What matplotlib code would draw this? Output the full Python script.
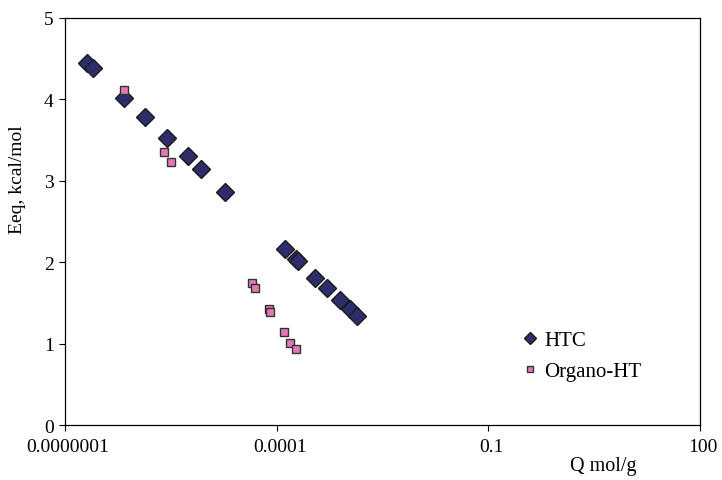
import matplotlib
matplotlib.use("Agg")
import matplotlib.pyplot as plt
import matplotlib.transforms as mtransforms

# adsorption energy vs. loading
htc_q = [2.05e-7, 2.5e-7, 6.95e-7, 1.38e-6, 2.78e-6, 5.53e-6, 8.46e-6, 1.85e-5,
         1.33e-4, 1.89e-4, 2.02e-4, 3.48e-4, 5.09e-4, 7.87e-4, 1.08e-3, 1.39e-3]
htc_e = [4.45, 4.39, 4.02, 3.78, 3.53, 3.30, 3.15, 2.86,
         2.16, 2.04, 2.01, 1.81, 1.68, 1.53, 1.43, 1.34]

org_q = [6.95e-7, 2.57e-6, 3.23e-6, 4.43e-5, 4.95e-5, 7.82e-5, 8.09e-5,
         1.28e-4, 1.53e-4, 1.87e-4]
org_e = [4.11, 3.36, 3.23, 1.74, 1.68, 1.42, 1.39, 1.14, 1.01, 0.93]

x_ticks = [1e-7, 1e-4, 0.1, 100]
x_labels = ["0.0000001", "0.0001", "0.1", "100"]

plt.rcParams["font.family"] = "Liberation Serif"

fig = plt.figure(figsize=(7.22, 4.81), dpi=100)
ax = fig.add_axes([0.090, 0.1143, 0.8795, 0.8462])

ax.plot(htc_q, htc_e, linestyle="none", marker="D", markersize=9,
        markerfacecolor="#2C2D6A", markeredgecolor="#1A1A1A", markeredgewidth=1.0,
        label="HTC")
ax.plot(org_q, org_e, linestyle="none", marker="s", markersize=6,
        markerfacecolor="#E07AB6", markeredgecolor="#333333", markeredgewidth=1.0,
        label="Organo-HT")

ax.set_xscale("log")
ax.set_xlim(1e-7, 100)
ax.set_ylim(0, 5)
ax.set_xticks(x_ticks)
ax.set_xticklabels(x_labels)
ax.xaxis.set_minor_locator(matplotlib.ticker.NullLocator())
ax.set_yticks([0, 1, 2, 3, 4, 5])

ax.tick_params(axis="both", direction="out", length=4, width=0.8, labelsize=14,
               colors="black")
ax.tick_params(axis="x", pad=5)
ax.tick_params(axis="y", pad=4)
# x labels sit a little right of their ticks
shift = mtransforms.ScaledTranslation(3 / 100, 0, fig.dpi_scale_trans)
for lbl in ax.get_xticklabels():
    lbl.set_transform(lbl.get_transform() + shift)
for s in ax.spines.values():
    s.set_linewidth(0.9)

ax.set_ylabel("Eeq, kcal/mol", fontsize=14)
ax.yaxis.set_label_coords(-0.062, 0.604)
fig.text(0.835, 0.030, "Q mol/g", fontsize=14.5, ha="center", va="center")

leg = ax.legend(loc="center left", bbox_to_anchor=(0.6935, 0.258),
                bbox_transform=fig.transFigure, frameon=False,
                fontsize=15, handletextpad=0.2, labelspacing=0.55,
                handlelength=1.0, markerscale=0.7)

fig.savefig("out.png", dpi=100, facecolor="white")
